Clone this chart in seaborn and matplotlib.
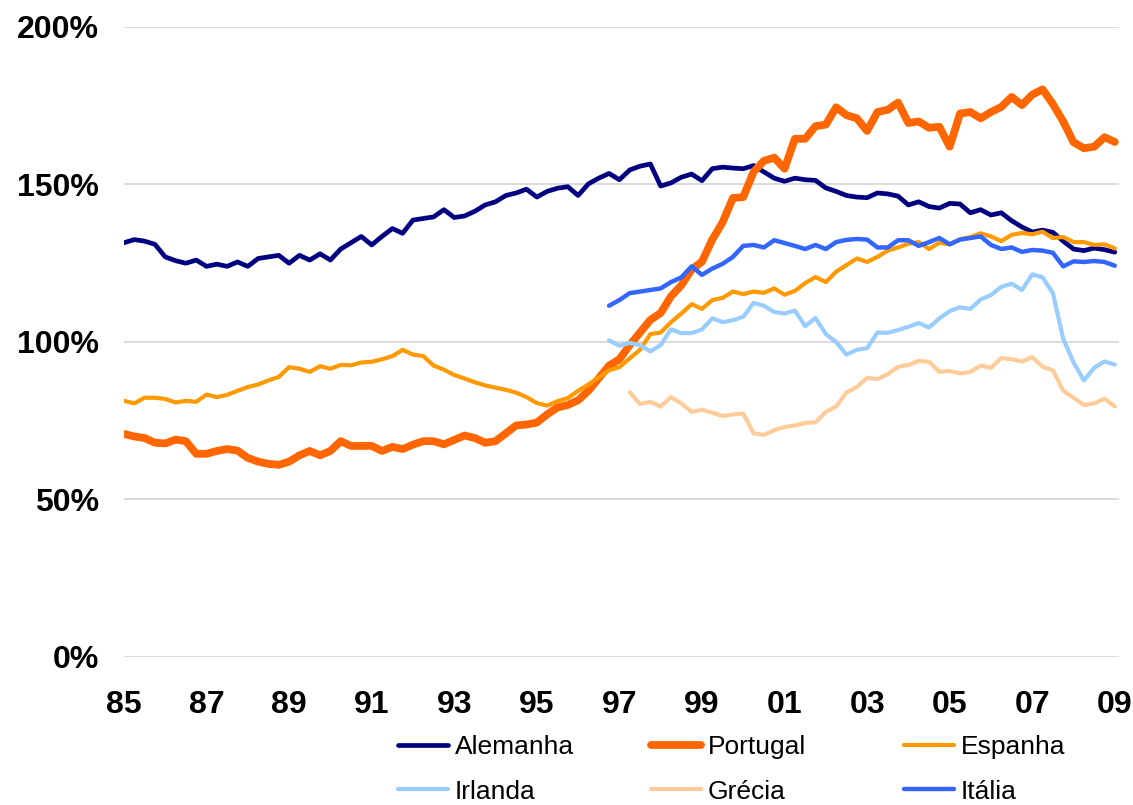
import matplotlib.pyplot as plt
import numpy as np
import pandas as pd
import seaborn as sns

# quarterly points, 1985 Q1 .. 2009 Q1
quarters = np.arange(1985, 2009.01, 0.25)

alemanha = [131.5, 132.5, 132.0, 131.0, 127.0, 125.8, 125.0, 126.0, 124.0, 124.7, 124.0, 125.4,
            124.0, 126.5, 127.0, 127.5, 125.0, 127.5, 126.0, 128.0, 126.0, 129.5, 131.5, 133.5,
            130.8, 133.5, 136.0, 134.5, 138.7, 139.2, 139.7, 142.0, 139.5, 140.0, 141.5, 143.5,
            144.5, 146.5, 147.3, 148.5, 146.0, 147.8, 148.8, 149.3, 146.5, 150.2, 152.0, 153.5,
            151.5, 154.6, 155.8, 156.5, 149.5, 150.5, 152.3, 153.3, 151.2, 155.0, 155.5, 155.2,
            155.0, 156.0, 154.0, 152.0, 151.0, 152.0, 151.5, 151.3, 148.9, 147.8, 146.5, 146.0,
            145.8, 147.3, 147.0, 146.3, 143.5, 144.5, 143.0, 142.5, 144.0, 143.8, 141.0, 142.0,
            140.3, 141.0, 138.5, 136.5, 134.9, 135.5, 134.8, 132.0, 129.5, 129.0, 129.8, 129.3,
            128.5]

portugal = [70.8, 70.0, 69.5, 68.0, 67.8, 69.0, 68.5, 64.5, 64.5, 65.4, 66.0, 65.5,
            63.2, 62.0, 61.3, 61.0, 62.0, 64.0, 65.4, 64.0, 65.4, 68.5, 67.0, 67.0,
            67.0, 65.4, 66.7, 66.0, 67.4, 68.5, 68.5, 67.5, 68.9, 70.3, 69.5, 68.0,
            68.5, 71.0, 73.5, 73.8, 74.4, 77.0, 79.2, 80.0, 81.5, 84.5, 88.5, 92.5,
            94.5, 99.0, 103.0, 107.0, 109.2, 114.5, 118.0, 123.0, 125.5, 132.5, 138.0, 145.7,
            146.0, 154.0, 157.5, 158.5, 155.0, 164.5, 164.5, 168.5, 169.0, 174.5, 172.0, 171.0,
            167.0, 173.0, 173.7, 176.0, 169.5, 170.0, 168.0, 168.3, 162.0, 172.5, 173.0, 171.0,
            173.0, 174.6, 177.8, 175.2, 178.5, 180.2, 175.5, 170.0, 163.4, 161.5, 162.0, 165.0,
            163.5]

espanha = [81.3, 80.5, 82.3, 82.3, 81.9, 80.8, 81.3, 81.0, 83.3, 82.5, 83.2, 84.5,
           85.7, 86.5, 87.8, 88.9, 92.0, 91.5, 90.5, 92.3, 91.5, 92.7, 92.6, 93.5,
           93.7, 94.5, 95.5, 97.5, 96.0, 95.5, 92.5, 91.2, 89.5, 88.4, 87.2, 86.2,
           85.5, 84.8, 83.9, 82.5, 80.6, 79.8, 81.2, 82.2, 84.5, 86.5, 88.8, 91.0,
           92.0, 94.8, 97.5, 102.5, 103.0, 106.3, 109.0, 112.0, 110.5, 113.3, 114.0, 116.0,
           115.2, 116.0, 115.6, 117.0, 115.0, 116.2, 118.7, 120.6, 119.0, 122.3, 124.4, 126.5,
           125.4, 127.0, 129.0, 130.0, 131.2, 131.7, 129.5, 131.5, 131.0, 132.6, 133.3, 134.5,
           133.5, 132.0, 134.0, 134.6, 134.2, 135.0, 133.0, 133.3, 131.7, 131.7, 130.8, 131.0,
           129.7]

# from 1996 Q4
irlanda = [100.5, 98.8, 99.7, 99.0, 97.0, 99.0, 104.0, 102.8, 102.8, 104.0, 107.5, 106.3, 106.9,
           108.0, 112.4, 111.5, 109.5, 109.0, 110.0, 105.0, 107.6, 102.5, 100.0, 96.0, 97.5,
           98.0, 103.0, 102.9, 103.8, 104.8, 106.0, 104.6, 107.5, 109.8, 111.0, 110.5, 113.5,
           114.9, 117.5, 118.5, 116.5, 121.5, 120.5, 115.5, 101.0, 93.5, 87.8, 91.8, 93.8, 92.8]

# from 1997 Q2
grecia = [84.0, 80.3, 81.0, 79.5, 82.5, 80.5, 77.8, 78.5, 77.5, 76.5, 77.0,
          77.3, 71.0, 70.5, 72.0, 73.0, 73.5, 74.3, 74.5, 77.8, 79.5, 84.0, 85.7,
          88.6, 88.2, 89.8, 92.1, 92.7, 94.0, 93.7, 90.5, 90.8, 90.0, 90.5, 92.5,
          91.8, 94.9, 94.5, 93.8, 95.2, 92.1, 91.0, 84.5, 82.3, 80.0, 80.5, 82.0, 79.5]

# from 1996 Q4
italia = [111.5, 113.3, 115.5, 116.0, 116.5, 117.0, 119.0, 120.5, 124.0, 121.3, 123.3, 124.8, 127.0,
          130.5, 130.8, 130.0, 132.3, 131.4, 130.5, 129.5, 130.8, 129.5, 131.7, 132.4, 132.7,
          132.5, 130.0, 130.0, 132.3, 132.3, 130.5, 131.7, 133.0, 131.0, 132.5, 133.0, 133.5,
          130.8, 129.5, 130.0, 128.6, 129.2, 129.0, 128.3, 124.0, 125.6, 125.4, 125.7, 125.4, 124.2]

series = [
    ("Alemanha", alemanha, "#000080", 3.4),
    ("Portugal", portugal, "#FF6600", 5.6),
    ("Espanha", espanha, "#FF9900", 3.0),
    ("Irlanda", irlanda, "#99CCFF", 3.0),
    ("Grécia", grecia, "#FFCC99", 3.0),
    ("Itália", italia, "#3366FF", 3.2),
]

y_ticks = [0, 50, 100, 150, 200]
x_ticks = list(range(1985, 2010, 2))
x_labels = [f"{y % 100:02d}" for y in x_ticks]

legend_columns = [("Alemanha", "Irlanda"), ("Portugal", "Grécia"), ("Espanha", "Itália")]

sns.set_theme(style="white")
plt.rcParams["font.family"] = ["Liberation Sans", "DejaVu Sans"]

fig = plt.figure(figsize=(11.33, 8.05), dpi=100)
ax = fig.add_axes([0.1094, 0.1839, 0.8782, 0.7826])

lines = {}
for name, values, color, lw in series:
    df = pd.DataFrame({"ano": quarters[-len(values):], "valor": values})
    sns.lineplot(data=df, x="ano", y="valor", color=color, linewidth=lw,
                 estimator=None, ax=ax, legend=False)
    lines[name] = ax.get_lines()[-1]
    lines[name].set_solid_joinstyle("round")

ax.set_xlim(1985, 2009.1)
ax.set_ylim(0, 200)
ax.set_yticks(y_ticks)
ax.set_yticklabels([f"{v}%" for v in y_ticks], fontsize=23, fontweight="bold")
ax.set_xticks(x_ticks)
ax.set_xticklabels(x_labels, fontsize=23, fontweight="bold")
ax.tick_params(axis="y", length=0, pad=18, colors="black")
ax.tick_params(axis="x", length=0, pad=24, colors="black")
ax.set_xlabel("")
ax.set_ylabel("")
ax.grid(axis="y", color="#D4D4D4", linewidth=1.2)
ax.set_axisbelow(True)
sns.despine(ax=ax, left=True, bottom=True)

for x_px, names in zip([398, 651, 904], legend_columns):
    leg = fig.legend([lines[n] for n in names], names, loc="center left",
                     bbox_to_anchor=(x_px / 1133, 0.0442), frameon=False, fontsize=19,
                     handlelength=1.9, handletextpad=0.25, labelspacing=0.78,
                     borderpad=0, borderaxespad=0)
    for text in leg.get_texts():
        text.set_color("black")

plt.savefig("out.png", dpi=100)
plt.close(fig)
